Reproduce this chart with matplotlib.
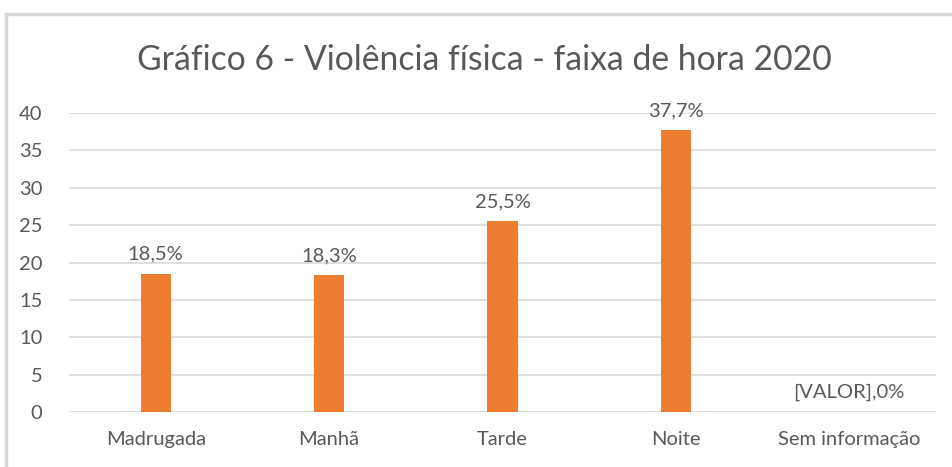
import matplotlib
matplotlib.use("Agg")
from matplotlib import pyplot as plt
from matplotlib.patches import Rectangle

categorias = ["Madrugada", "Manhã", "Tarde", "Noite", "Sem informação"]
valores = [18.5, 18.3, 25.5, 37.7, 0.0]
rotulos = ["18,5%", "18,3%", "25,5%", "37,7%", "[VALOR],0%"]
yticks = [0, 5, 10, 15, 20, 25, 30, 35, 40]

plt.rcParams["font.family"] = ["Lato", "DejaVu Sans"]
cinza = "#595959"
laranja = "#ED7D31"

W, H = 952, 467
fig = plt.figure(figsize=(W / 100, H / 100), dpi=100)

# moldura do gráfico (cortada à direita e embaixo)
fig.patches.append(Rectangle((6 / W, -0.1), 1.2, 1 - 14 / H + 0.1,
                             transform=fig.transFigure, fill=False,
                             edgecolor="#D9D9D9", linewidth=2.5))

ax = fig.add_axes([69 / W, 1 - 412 / H, (936 - 69) / W, (412 - 113) / H])
x = list(range(len(categorias)))
ax.bar(x, valores, width=0.175, color=laranja, zorder=3)
ax.set_xlim(-0.5, len(categorias) - 0.5)
ax.set_ylim(0, 40)
ax.set_yticks(yticks)
ax.set_xticks(x)
ax.set_xticklabels(categorias)
ax.tick_params(axis="both", length=0, colors=cinza, labelsize=14.5)
ax.tick_params(axis="x", pad=14)
ax.tick_params(axis="y", pad=19)
ax.grid(axis="y", color="#D9D9D9", linewidth=1.2, zorder=0)
for s in ax.spines.values():
    s.set_visible(False)

for xi, v, r in zip(x, valores, rotulos):
    ax.annotate(r, (xi, v), xytext=(0, 8), textcoords="offset points",
                ha="center", va="bottom", fontsize=14.5, color=cinza)

fig.text(484 / W, 1 - 60 / H,
         "Gráfico 6 - Violência física - faixa de hora 2020",
         ha="center", va="center", fontsize=24.3, color=cinza)

fig.savefig("out.png", dpi=100)
